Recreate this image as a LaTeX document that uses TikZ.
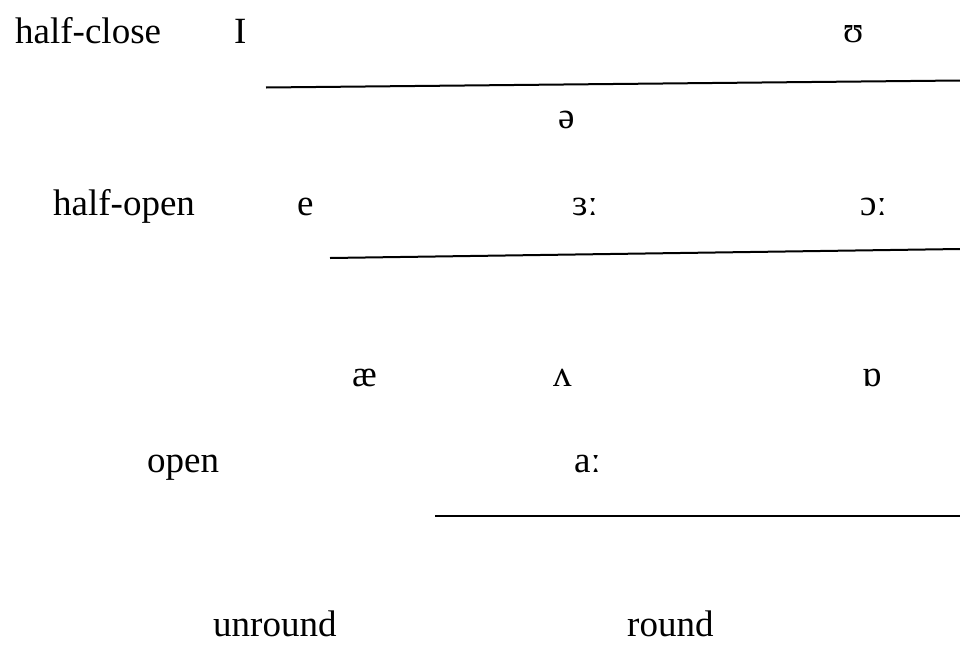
\documentclass[tikz,border=0pt]{standalone}
\usepackage{fontspec}
\setmainfont{Liberation Serif}
\begin{document}
\begin{tikzpicture}[x=1pt,y=-1pt,
  lbl/.style={anchor=base west,inner sep=0pt,font=\fontsize{37}{44}\selectfont},
  rule/.style={line width=2pt,black}]
\useasboundingbox (0,0) rectangle (960,648);
\node[lbl] (hc) at (15,43) {half-close};
\node[lbl] (vI) at (234,43) {I};
\node[lbl] (vU) at (843,42) {ʊ};
\node[lbl] (schwa) at (558,128) {ə};
\node[lbl] (ho) at (53,215) {half-open};
\node[lbl] (ve) at (297,215) {e};
\node[lbl] (v3) at (572,215) {ɜː};
\node[lbl] (vo) at (860,215) {ɔː};
\node[lbl] (vae) at (352,386) {æ};
\node[lbl] (vA) at (553,386) {ʌ};
\node[lbl] (vQ) at (862,386) {ɒ};
\node[lbl] (op) at (147,472) {open};
\node[lbl] (va) at (574,472) {aː};
\node[lbl] (ur) at (213,636) {unround};
\node[lbl] (rd) at (627,636) {round};
\coordinate (l1a) at (266,87.5);
\coordinate (l1b) at (960,80.5);
\coordinate (l2a) at (330,258);
\coordinate (l2b) at (960,249);
\coordinate (l3a) at (435,516);
\coordinate (l3b) at (960,516);
\draw[rule] (l1a) -- (l1b);
\draw[rule] (l2a) -- (l2b);
\draw[rule] (l3a) -- (l3b);
\end{tikzpicture}
\end{document}
